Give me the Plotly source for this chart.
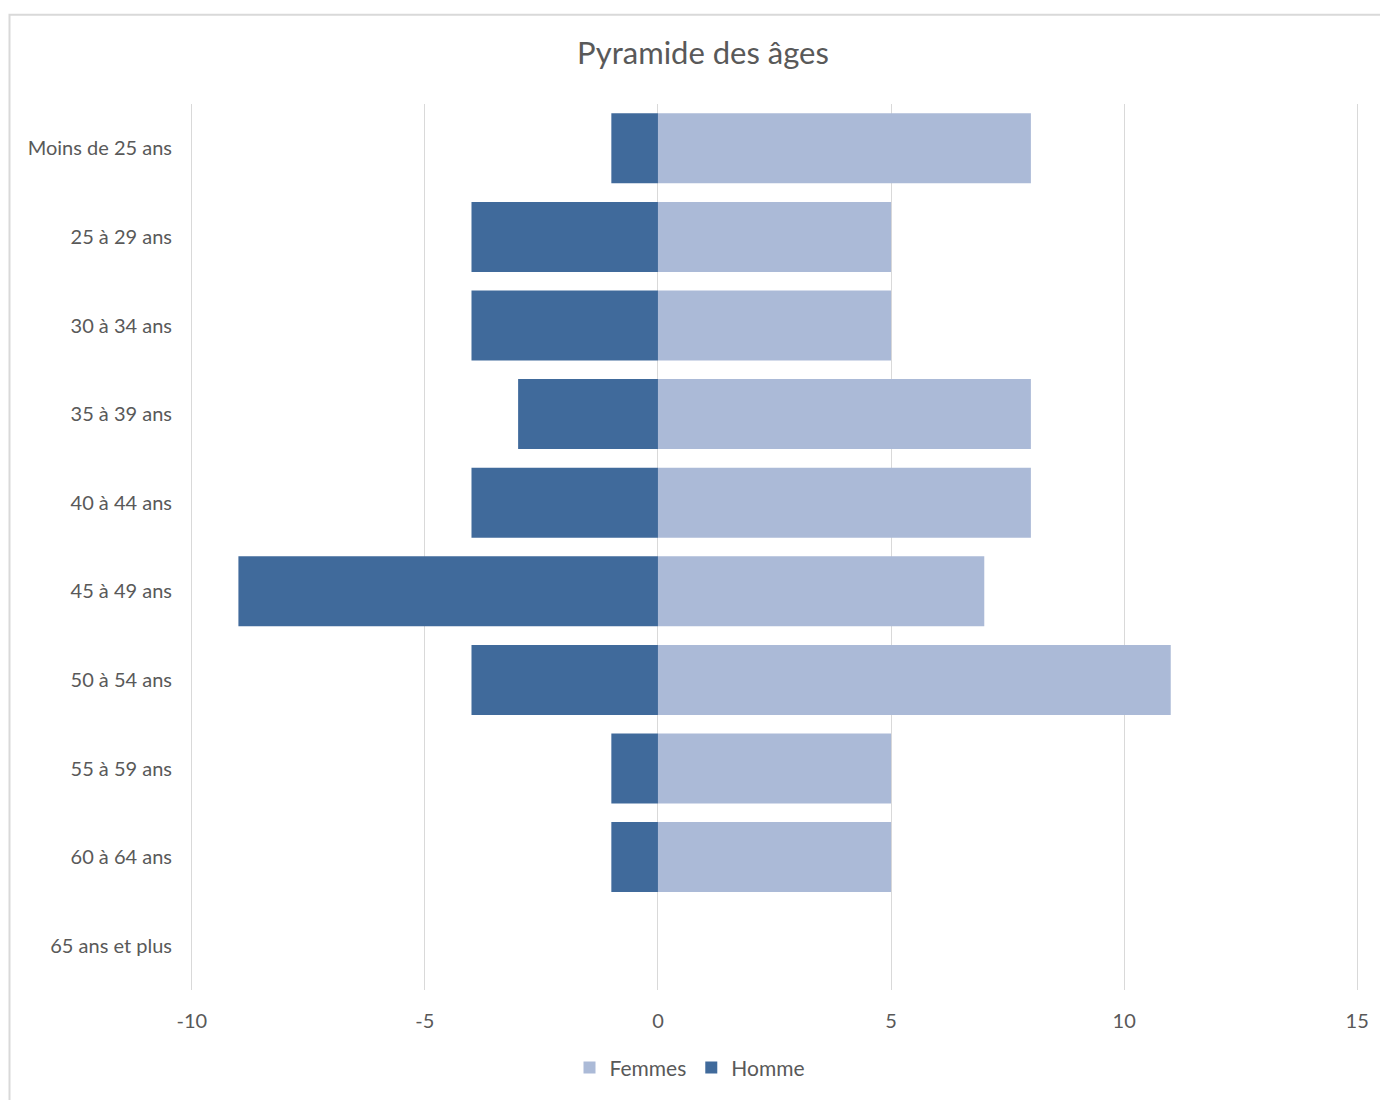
import plotly.graph_objects as go

categories = ["Moins de 25 ans", "25 à 29 ans", "30 à 34 ans", "35 à 39 ans", "40 à 44 ans",
              "45 à 49 ans", "50 à 54 ans", "55 à 59 ans", "60 à 64 ans", "65 ans et plus"]
femmes = [8, 5, 5, 8, 8, 7, 11, 5, 5, 0]
homme = [-1, -4, -4, -3, -4, -9, -4, -1, -1, 0]
x_ticks = [-10, -5, 0, 5, 10, 15]
x_tick_text = [str(v) for v in x_ticks]

OFF = 8  # page body margin
PAD = 0.06  # axis padding so the edge gridlines are drawn
W, H = 1388 - OFF, 1100 - OFF
upx = (1357 - 192) / 25.0
L = round(192 - OFF - PAD * upx)
R = round(W - (1357 - OFF) - PAD * upx)
T = 104 - OFF
B = H - (993 - OFF)
pw, ph = W - L - R, H - T - B

def px_x(px):
    return (px - OFF - L) / pw

def px_y(py):
    return (H - B - (py - OFF)) / ph

font_family = "Lato, Open Sans, sans-serif"
grey = "#595959"

fig = go.Figure()
fig.add_trace(go.Bar(y=categories, x=femmes, orientation="h", name="Femmes",
                     marker=dict(color="#abbad7", line=dict(width=0))))
fig.add_trace(go.Bar(y=categories, x=homme, orientation="h", name="Homme",
                     marker=dict(color="#406a9b", line=dict(width=0))))

fig.update_layout(
    width=W, height=H,
    margin=dict(l=L, r=R, t=T, b=B),
    barmode="overlay",
    bargap=0.21,
    paper_bgcolor="white",
    plot_bgcolor="white",
    font=dict(family=font_family, color=grey, size=20),
    title=dict(text="Pyramide des âges", x=px_x(703), xref="paper", xanchor="center",
               y=1 - (53 - OFF) / H, yanchor="middle", font=dict(size=31, color=grey)),
    xaxis=dict(range=[-10 - PAD, 15 + PAD], tickvals=x_ticks, ticktext=x_tick_text,
               showgrid=True, gridcolor="#d9d9d9",
               gridwidth=1, zeroline=False, showline=False, ticks="",
               tickfont=dict(size=20, color=grey), ticklabelstandoff=17),
    yaxis=dict(categoryorder="array", categoryarray=categories, autorange="reversed",
               showgrid=False, zeroline=False, showline=False, ticks="",
               tickfont=dict(size=20, color=grey), ticklabelstandoff=16),
    legend=dict(orientation="h", x=px_x(690), xanchor="center",
                y=px_y(1071), yanchor="middle", font=dict(size=21, color=grey),
                itemwidth=30, traceorder="normal"),
    showlegend=True,
)

fig.add_shape(type="rect", xref="paper", yref="paper",
              x0=px_x(9.5), x1=px_x(1388 + 20), y0=px_y(1100 + 20), y1=px_y(14.5),
              line=dict(color="#d9d9d9", width=2), fillcolor="rgba(0,0,0,0)", layer="below")

fig.write_html("out.html")
